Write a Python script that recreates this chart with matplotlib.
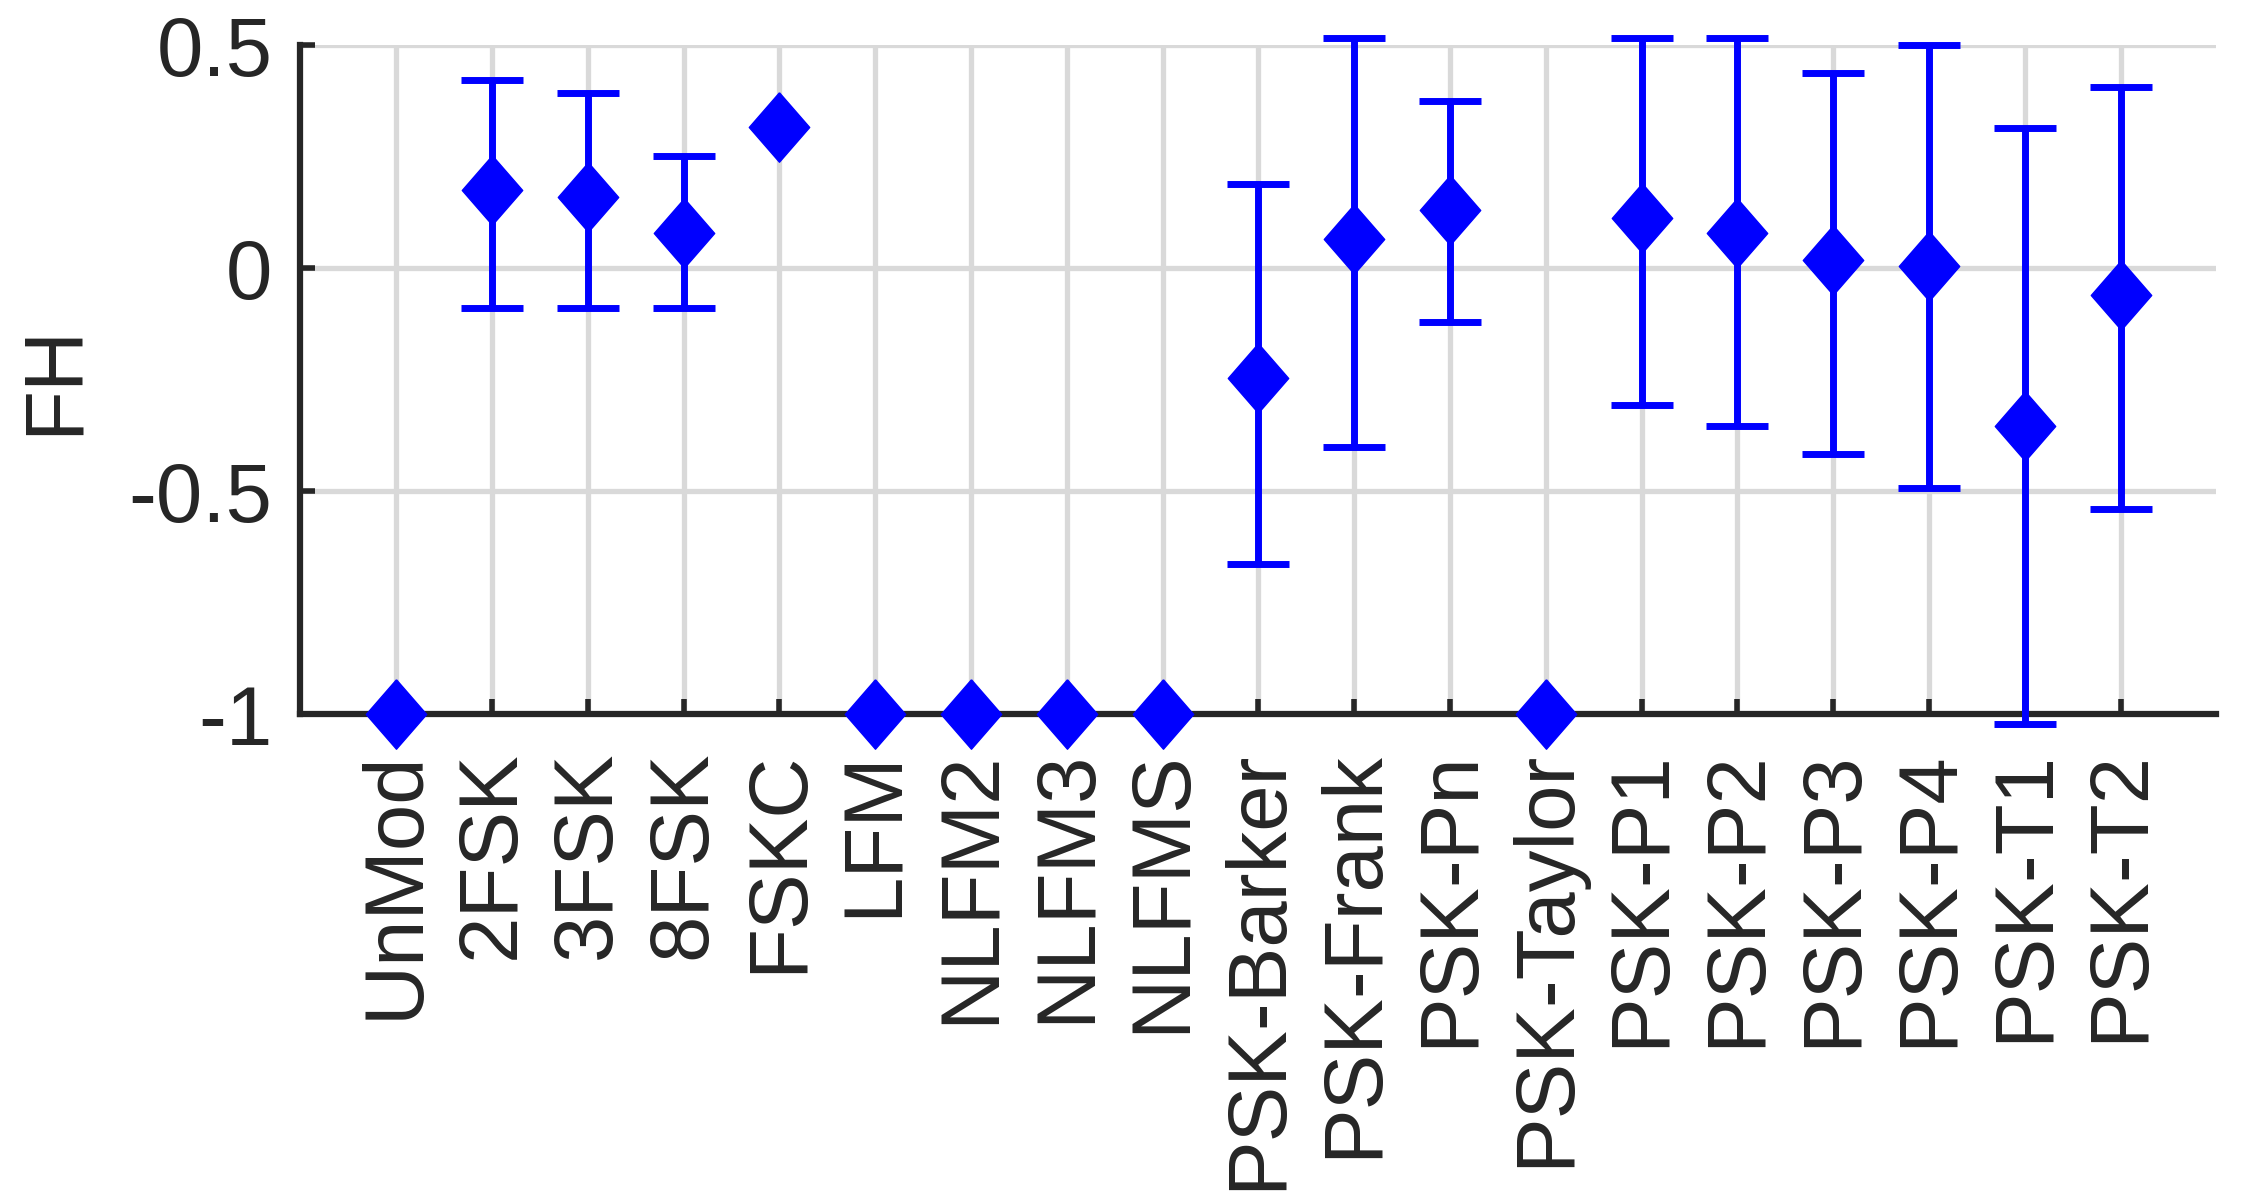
import numpy as np
import matplotlib
matplotlib.use("Agg")
import matplotlib.pyplot as plt

plt.rcParams['font.family'] = ['Liberation Sans', 'DejaVu Sans']
plt.rcParams['axes.unicode_minus'] = False

# signal classes
labels = ["UnMod", "2FSK", "3FSK", "8FSK", "FSKC", "LFM", "NLFM2", "NLFM3",
          "NLFMS", "PSK-Barker", "PSK-Frank", "PSK-Pn", "PSK-Taylor",
          "PSK-P1", "PSK-P2", "PSK-P3", "PSK-P4", "PSK-T1", "PSK-T2"]

# mean FH value per class
fh_mean = [-1.0, 0.175, 0.16, 0.08, 0.316, -1.0, -1.0, -1.0,
           -1.0, -0.245, 0.065, 0.131, -1.0,
           0.113, 0.08, 0.018, 0.005, -0.354, -0.059]

# ends of the error bars (nan = no bar)
fh_low = [np.nan, -0.089, -0.089, -0.089, np.nan, np.nan, np.nan, np.nan,
          np.nan, -0.664, -0.40, -0.121, np.nan,
          -0.307, -0.354, -0.417, -0.494, -1.022, -0.541]
fh_high = [np.nan, 0.423, 0.393, 0.253, np.nan, np.nan, np.nan, np.nan,
           np.nan, 0.19, 0.516, 0.376, np.nan,
           0.516, 0.516, 0.438, 0.50, 0.314, 0.407]

x = np.arange(1, len(labels) + 1)
mean = np.array(fh_mean)
low = np.array(fh_low)
high = np.array(fh_high)
has_bar = ~np.isnan(low)

blue = "#0000ff"
axcol = "#262626"
diamond = [(0, 1), (0.87, 0), (0, -1), (-0.87, 0), (0, 1)]

fig = plt.figure(figsize=(22.41, 11.96), dpi=100)
ax = fig.add_axes([0.134, 0.403, 0.855, 0.559])

ax.errorbar(x[has_bar], mean[has_bar],
            yerr=[mean[has_bar] - low[has_bar], high[has_bar] - mean[has_bar]],
            fmt="none", ecolor=blue, elinewidth=5, capsize=22, capthick=5,
            clip_on=False, zorder=3)
ax.plot(x, mean, linestyle="none", marker=diamond, markersize=50,
        color=blue, clip_on=False, zorder=4)

ax.set_xlim(0, 20)
ax.set_ylim(-1, 0.5)
ax.set_xticks(x)
ax.set_xticklabels(labels, rotation=90)
ax.set_yticks([-1, -0.5, 0, 0.5])
ax.set_yticklabels(["-1", "-0.5", "0", "0.5"])
ax.set_ylabel("FH", fontsize=60, color=axcol)
ax.yaxis.set_label_coords(-0.108, 0.5)

ax.grid(True, color="#d9d9d9", linewidth=3.8)
ax.set_axisbelow(True)
for side in ["top", "right"]:
    ax.spines[side].set_visible(False)
for side in ["left", "bottom"]:
    ax.spines[side].set_color(axcol)
    ax.spines[side].set_linewidth(4.5)
ax.tick_params(axis="both", direction="in", length=11, width=4,
               color=axcol, labelsize=60, labelcolor=axcol)
ax.tick_params(axis="x", pad=26)
ax.tick_params(axis="y", pad=20)

fig.savefig("out.png", dpi=100)
